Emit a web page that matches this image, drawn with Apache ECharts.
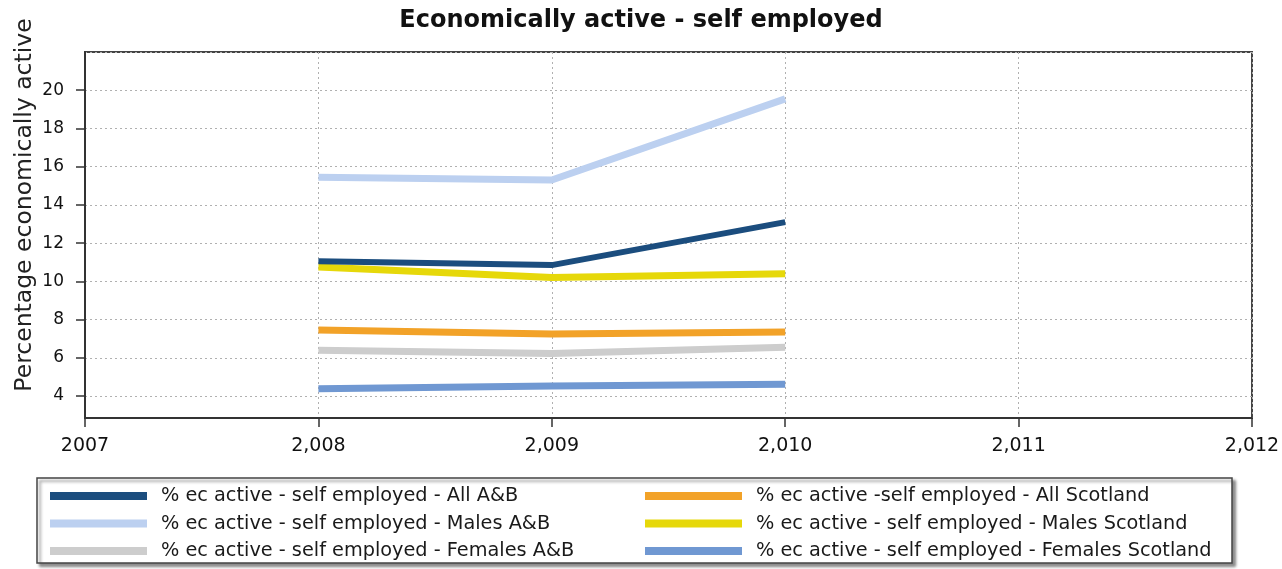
<!DOCTYPE html>
<html>
<head>
<meta charset="utf-8">
<script src="https://cdn.jsdelivr.net/npm/echarts@6/dist/echarts.min.js"></script>
<style>
html,body{margin:0;padding:0;background:#fff;}
#chart{width:1282px;height:569px;}
</style>
</head>
<body>
<div id="chart"></div>
<script>
// ---- data ----
const years = [2008, 2009, 2010];
const xTickLabels = ['2007', '2,008', '2,009', '2,010', '2,011', '2,012'];
const allAB = [11.05, 10.85, 13.1];
const malesAB = [15.45, 15.3, 19.55];
const femalesAB = [6.4, 6.22, 6.55];
const allScotland = [7.45, 7.25, 7.35];
const malesScotland = [10.75, 10.2, 10.4];
const femalesScotland = [4.38, 4.52, 4.62];

const names = [
  '% ec active - self employed - All A&B',
  '% ec active - self employed - Males A&B',
  '% ec active - self employed - Females A&B',
  '% ec active -self employed - All Scotland',
  '% ec active - self employed - Males Scotland',
  '% ec active - self employed - Females Scotland'
];
const colors = ['#1b4d7e', '#bcd0f0', '#cdcdcd', '#f2a228', '#e6d80a', '#7098d2'];
const widths = [6, 7, 7, 7, 7, 7];
const seriesData = [allAB, malesAB, femalesAB, allScotland, malesScotland, femalesScotland];
// draw order (back to front)
const drawOrder = [2, 5, 3, 4, 1, 0];

const font = 'DejaVu Sans, Verdana, sans-serif';
const chart = echarts.init(document.getElementById('chart'), null, {renderer: 'canvas'});

const series = drawOrder.map(i => ({
  name: names[i],
  type: 'line',
  data: years.map((y, k) => [y, seriesData[i][k]]),
  symbol: 'none',
  lineStyle: {color: colors[i], width: widths[i], cap: 'butt', join: 'round'},
  itemStyle: {color: colors[i]},
  z: 3,
  silent: true
}));

const legendCommon = {
  orient: 'vertical',
  icon: 'rect',
  itemWidth: 97,
  itemHeight: 8,
  itemGap: 7.5,
  top: 486,
  padding: 0,
  textStyle: {fontFamily: font, fontSize: 19.3, lineHeight: 20, color: '#1a1a1a', padding: [0, 0, 0, 9]},
  selectedMode: false
};

chart.setOption({
  animation: false,
  backgroundColor: '#fff',
  title: {
    text: 'Economically active - self employed',
    left: 'center',
    top: 9,
    padding: 0,
    textStyle: {fontFamily: font, fontSize: 24, fontWeight: 'bold', color: '#111'}
  },
  graphic: [{
    type: 'rect',
    shape: {x: 37, y: 478, width: 1195, height: 85},
    style: {fill: '#fff', stroke: '#444', lineWidth: 1.5, shadowColor: 'rgba(0,0,0,0.45)', shadowOffsetX: 3, shadowOffsetY: 3, shadowBlur: 3},
    z: -1
  }],
  legend: [
    Object.assign({}, legendCommon, {left: 50, data: names.slice(0, 3)}),
    Object.assign({}, legendCommon, {left: 645, data: names.slice(3, 6)})
  ],
  grid: {
    left: 85, right: 30, top: 52, bottom: 151,
    outerBoundsMode: 'none',
    containLabel: false,
    show: true, borderColor: '#444', borderWidth: 2, backgroundColor: '#fff'
  },
  xAxis: {
    type: 'value',
    min: 2007, max: 2012, interval: 1,
    axisLine: {show: true, lineStyle: {color: '#333', width: 2}},
    axisTick: {show: true, length: 9, lineStyle: {color: '#333', width: 1.5}},
    axisLabel: {
      fontFamily: font, fontSize: 19, color: '#111', margin: 19,
      formatter: v => xTickLabels[Math.round(v) - 2007]
    },
    splitLine: {show: true, lineStyle: {color: '#b0b0b0', type: [2, 3], width: 1}}
  },
  yAxis: {
    type: 'value',
    min: 2.85, max: 22, splitNumber: 10,
    name: 'Percentage economically active',
    nameLocation: 'middle',
    nameGap: 48,
    nameMoveOverlap: false,
    nameTextStyle: {fontFamily: font, fontSize: 23.5, color: '#222', padding: [0, 0, 0, 60]},
    axisLine: {show: true, lineStyle: {color: '#333', width: 2}},
    axisTick: {show: true, length: 9, lineStyle: {color: '#333', width: 1.5}},
    axisLabel: {fontFamily: font, fontSize: 17, color: '#111', margin: 21, showMinLabel: false, showMaxLabel: false},
    splitLine: {show: true, lineStyle: {color: '#b0b0b0', type: [2, 3], width: 1}}
  },
  series: series
});
</script>
</body>
</html>
